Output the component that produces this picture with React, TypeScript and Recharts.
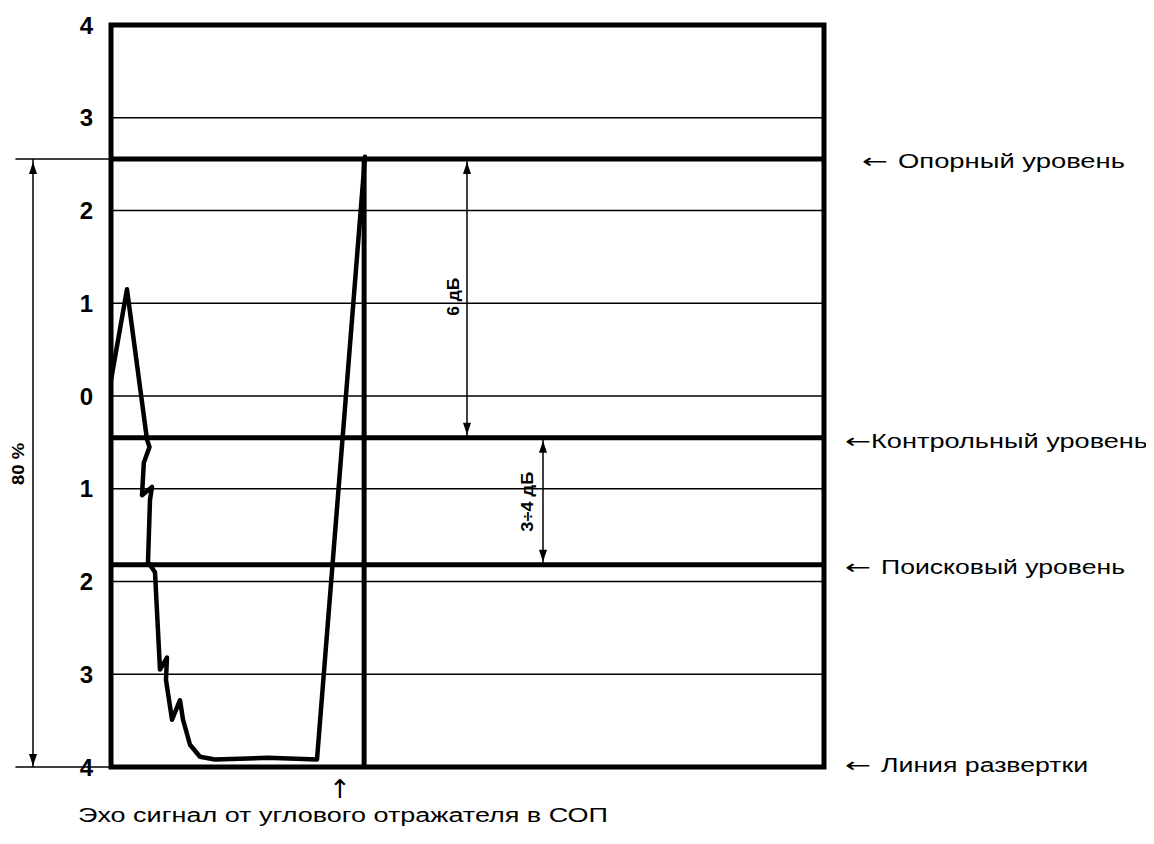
import React from 'react';
import {
  LineChart,
  Line,
  XAxis,
  YAxis,
  CartesianGrid,
  ReferenceLine,
  ReferenceArea,
  ReferenceDot,
} from 'recharts';

const FONT = '"Liberation Sans", Arial, Helvetica, sans-serif';
const ARROW_FONT = '"DejaVu Sans", sans-serif';

// Y scale: screen divisions, labelled 4..0..4
const yTicks = [-4, -3, -2, -1, 0, 1, 2, 3, 4];

// Echo trace (x: sweep position 0..100, y: amplitude in divisions)
const echoX = [0, 2.24, 5.05, 5.4, 4.6, 4.35, 5.75, 5.47, 5.19, 6.17, 6.87, 7.85, 7.71, 8.56, 9.68, 10.1, 11.08, 12.48, 14.59, 22.0, 28.89, 35.62];
const echoY = [0.17, 1.15, -0.47, -0.55, -0.72, -1.07, -0.98, -1.12, -1.79, -1.9, -2.95, -2.82, -3.06, -3.49, -3.28, -3.49, -3.76, -3.89, -3.92, -3.9, -3.92, 2.58];

// Levels
const referenceLevel = 2.555;
const controlLevel = -0.45;
const searchLevel = -1.82;
const sweepLevel = -4;
const gateX = 35.5;

const levelTexts = ['Опорный уровень', 'Контрольный уровень', 'Поисковый уровень', 'Линия развертки'];
const dimTexts = ['80 %', '6 дБ', '3÷4 дБ'];
const captionText = 'Эхо сигнал от углового отражателя в СОП';

const echoData = echoX.map((x, i) => ({ x, y: echoY[i] }));

const arrowUp = (p: any) => (
  <path d={`M${p.cx},${p.cy} L${p.cx - 4},${p.cy + 12} L${p.cx + 4},${p.cy + 12} Z`} fill="#000" />
);
const arrowDown = (p: any) => (
  <path d={`M${p.cx},${p.cy} L${p.cx - 4},${p.cy - 12} L${p.cx + 4},${p.cy - 12} Z`} fill="#000" />
);

const textShape = (
  text: string,
  opts: { size: number; len?: number; anchor?: string; rotate?: boolean; weight?: number; dy?: number; font?: string }
) => (p: any) => {
  const cy = p.cy + (opts.dy || 0);
  return (
    <text
      x={p.cx}
      y={cy}
      fontFamily={opts.font || FONT}
      fontSize={opts.size}
      fontWeight={opts.weight || 400}
      fill="#000"
      textAnchor={opts.anchor || 'middle'}
      dominantBaseline="central"
      textLength={opts.len}
      lengthAdjust={opts.len ? 'spacingAndGlyphs' : undefined}
      transform={opts.rotate ? `rotate(-90, ${p.cx}, ${cy})` : undefined}
    >
      {text}
    </text>
  );
};

const levelLabel = (textX: number, text: string, len: number, dy: number) => (p: any) => {
  const cy = p.cy + dy;
  return (
    <g>
      <text x={p.cx} y={cy} fontFamily={ARROW_FONT} fontSize={20} fill="#000" dominantBaseline="central" textLength={26} lengthAdjust="spacingAndGlyphs">
        ←
      </text>
      <text
        x={p.cx + textX}
        y={cy}
        fontFamily={FONT}
        fontSize={20}
        fill="#000"
        dominantBaseline="central"
        textLength={len}
        lengthAdjust="spacingAndGlyphs"
      >
        {text}
      </text>
    </g>
  );
};

export default function App() {
  return (
    <LineChart
      width={1146}
      height={836}
      data={echoData}
      margin={{ top: 17, right: 330, bottom: 77, left: 43 }}
    >
      <CartesianGrid vertical={false} stroke="#000" strokeWidth={1.3} />
      <XAxis type="number" dataKey="x" domain={[0, 100]} hide allowDataOverflow />
      <YAxis
        type="number"
        domain={[-4, 4]}
        ticks={yTicks}
        interval={0}
        width={60}
        axisLine={false}
        tickLine={false}
        tickSize={0}
        tickMargin={18}
        tickFormatter={(v: number) => String(Math.abs(v))}
        tick={{ fill: '#000', fontSize: 24, fontWeight: 700, fontFamily: FONT }}
      />

      {/* level lines */}
      <ReferenceLine y={referenceLevel} stroke="#000" strokeWidth={5} />
      <ReferenceLine y={controlLevel} stroke="#000" strokeWidth={5} />
      <ReferenceLine y={searchLevel} stroke="#000" strokeWidth={5} />

      {/* extension lines for the 80% dimension */}
      <ReferenceLine segment={[{ x: -13.4, y: referenceLevel }, { x: 0, y: referenceLevel }]} stroke="#000" strokeWidth={1.5} ifOverflow="visible" />
      <ReferenceLine segment={[{ x: -13.4, y: sweepLevel }, { x: 0, y: sweepLevel }]} stroke="#000" strokeWidth={1.5} ifOverflow="visible" />

      {/* dimension lines */}
      <ReferenceLine segment={[{ x: -10.94, y: referenceLevel }, { x: -10.94, y: sweepLevel }]} stroke="#000" strokeWidth={1.5} ifOverflow="visible" />
      <ReferenceLine segment={[{ x: 49.93, y: referenceLevel }, { x: 49.93, y: controlLevel }]} stroke="#000" strokeWidth={1.5} ifOverflow="visible" />
      <ReferenceLine segment={[{ x: 60.59, y: controlLevel }, { x: 60.59, y: searchLevel }]} stroke="#000" strokeWidth={1.5} ifOverflow="visible" />

      <ReferenceDot x={-10.94} y={referenceLevel} ifOverflow="visible" shape={(p: any) => arrowUp({ ...p, cy: p.cy + 3 })} />
      <ReferenceDot x={-10.94} y={sweepLevel} ifOverflow="visible" shape={(p: any) => arrowDown({ ...p, cy: p.cy - 1 })} />
      <ReferenceDot x={49.93} y={referenceLevel} ifOverflow="visible" shape={(p: any) => arrowUp({ ...p, cy: p.cy + 3 })} />
      <ReferenceDot x={49.93} y={controlLevel} ifOverflow="visible" shape={(p: any) => arrowDown({ ...p, cy: p.cy - 3 })} />
      <ReferenceDot x={60.59} y={controlLevel} ifOverflow="visible" shape={(p: any) => arrowUp({ ...p, cy: p.cy + 3 })} />
      <ReferenceDot x={60.59} y={searchLevel} ifOverflow="visible" shape={(p: any) => arrowDown({ ...p, cy: p.cy - 3 })} />

      {/* gate / echo vertical line */}
      <ReferenceLine segment={[{ x: gateX, y: referenceLevel }, { x: gateX, y: sweepLevel }]} stroke="#000" strokeWidth={5} />

      {/* screen frame */}
      <ReferenceArea x1={0} x2={100} y1={-4} y2={4} fill="none" fillOpacity={0} stroke="#000" strokeWidth={5} ifOverflow="visible" />

      <Line
        dataKey="y"
        type="linear"
        stroke="#000"
        strokeWidth={4.5}
        strokeLinejoin="round"
        strokeLinecap="round"
        dot={false}
        activeDot={false}
        isAnimationActive={false}
      />

      {/* dimension labels */}
      <ReferenceDot x={-12.97} y={-0.733} ifOverflow="visible" shape={textShape(dimTexts[0], { size: 16, len: 42, rotate: true, weight: 700 })} />
      <ReferenceDot x={47.97} y={1.07} ifOverflow="visible" shape={textShape(dimTexts[1], { size: 16, len: 38, rotate: true, weight: 700 })} />
      <ReferenceDot x={58.35} y={-1.14} ifOverflow="visible" shape={textShape(dimTexts[2], { size: 16, len: 60, rotate: true, weight: 700 })} />

      {/* level labels */}
      <ReferenceDot x={105.33} y={referenceLevel} ifOverflow="visible" shape={levelLabel(36, levelTexts[0], 227, 2)} />
      <ReferenceDot x={102.95} y={controlLevel} ifOverflow="visible" shape={levelLabel(26, levelTexts[1], 277, 3)} />
      <ReferenceDot x={102.95} y={searchLevel} ifOverflow="visible" shape={levelLabel(36, levelTexts[2], 244, 2)} />
      <ReferenceDot x={102.95} y={sweepLevel} ifOverflow="visible" shape={levelLabel(36, levelTexts[3], 207, -2)} />

      {/* caption */}
      <ReferenceDot x={32.12} y={-4.237} ifOverflow="visible" shape={textShape('↑', { size: 26, font: ARROW_FONT })} />
      <ReferenceDot x={32.54} y={-4.518} ifOverflow="visible" shape={textShape(captionText, { size: 20, len: 530 })} />
    </LineChart>
  );
}
